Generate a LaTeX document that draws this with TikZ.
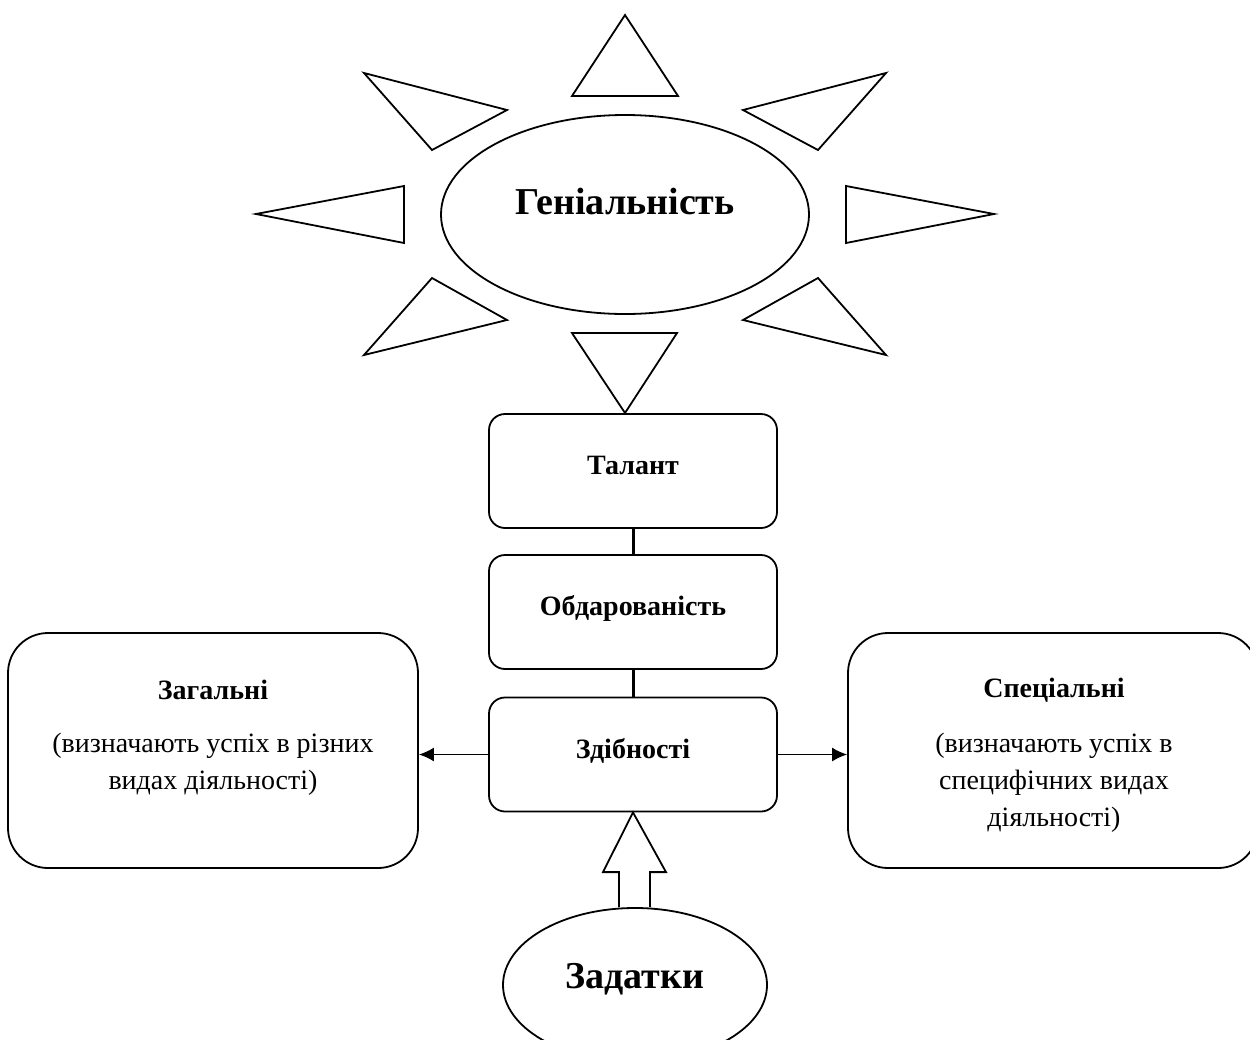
\documentclass[tikz,border=0pt]{standalone}
\usepackage{fontspec}
\setmainfont{Liberation Serif}
\usetikzlibrary{shapes.geometric,arrows.meta,calc}
\begin{document}
\begin{tikzpicture}[x=1pt,y=-1pt,
  ray/.style={draw,line width=1.8pt,line join=miter},
  oval/.style={draw,ellipse,line width=1.8pt,inner sep=0pt,font=\fontsize{38}{44}\selectfont\bfseries},
  box/.style={draw,line width=1.8pt,rounded corners=16pt,minimum width=288pt,minimum height=114pt,
    inner sep=0pt,font=\fontsize{28}{32}\selectfont\bfseries,text height=20pt,text depth=13pt},
  wide/.style={draw,line width=1.8pt,rounded corners=40pt,minimum width=410pt,minimum height=235pt,inner sep=0pt},
  head/.style={font=\fontsize{28}{32}\selectfont\bfseries,inner sep=0pt},
  body/.style={font=\fontsize{28}{37}\selectfont,align=center,inner sep=0pt},
  link/.style={line width=3pt},
  side/.style={line width=1.6pt,-{Latex[length=15pt,width=14pt]}},
]
\useasboundingbox (0,0) rectangle (1250,1039);

% the sun: central oval with eight rays
\node[oval,minimum width=368pt,minimum height=199pt,text height=20pt,text depth=20pt]
  (genius) at (625,214.5) {Геніальність};
\draw[ray] (625,15) -- (678,96) -- (572,96) -- cycle;
\draw[ray] (625,413) -- (677,333) -- (572,333) -- cycle;
\draw[ray] (256,214) -- (404,186) -- (404,243) -- cycle;
\draw[ray] (994,214) -- (846,186) -- (846,243) -- cycle;
\draw[ray] (364,73) -- (507,110) -- (432,150) -- cycle;
\draw[ray] (886,73) -- (743,110) -- (818,150) -- cycle;
\draw[ray] (364,355) -- (507,320) -- (432,278) -- cycle;
\draw[ray] (886,355) -- (743,320) -- (818,278) -- cycle;

% central column
\node[box] (talent) at (633,471) {Талант};
\node[box] (gift) at (633,612) {Обдарованість};
\node[box] (abil) at (633,754.5) {Здібності};
\draw[link] (talent.south) -- (gift.north);
\draw[link] (gift.south) -- (abil.north);

% side boxes
\node[wide] (general) at (213,750.5) {};
\node[head] (generalhead) at (213,690) {Загальні};
\node[body] (generaltext) at (213,764.5) {(визначають успіх в різних\\видах діяльності)};

\node[wide] (special) at (1053,750.5) {};
\node[head] (specialhead) at (1054,690) {Спеціальні};
\node[body] (specialtext) at (1054,782.5) {(визначають успіх в\\специфічних видах\\діяльності)};

\draw[side] (abil.west) -- (abil.west -| general.east);
\draw[side] (abil.east) -- (abil.east -| special.west);

% inclinations with the hollow arrow
\node[oval,minimum width=264pt,minimum height=154pt,text height=25pt,text depth=19pt]
  (seeds) at (635,985) {Задатки};
\draw[ray] ($(seeds.north)+(-16,0)$) -- ++(0,-35) -- ++(-16,0) -- (abil.south)
  -- ($(seeds.north)+(31,-35)$) -- ++(-16,0) -- ++(0,35);
\end{tikzpicture}
\end{document}
